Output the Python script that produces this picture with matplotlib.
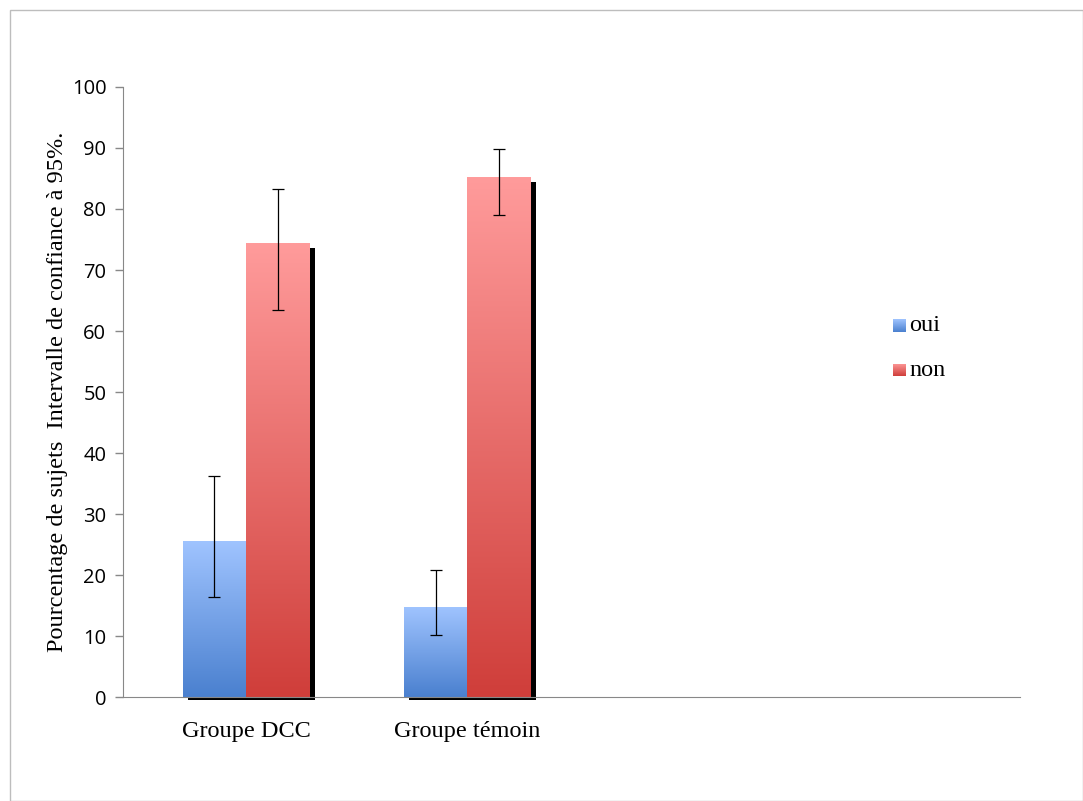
import numpy as np
import matplotlib.pyplot as plt
from matplotlib.colors import LinearSegmentedColormap
from matplotlib.patches import Rectangle

# Data
groups = ['Groupe DCC', 'Groupe témoin']
series = ['oui', 'non']
oui = [25.6, 14.8]
non = [74.4, 85.2]
oui_low = [16.4, 10.2]
oui_high = [36.2, 20.8]
non_low = [63.4, 79.0]
non_high = [83.2, 89.8]

blue_cmap = LinearSegmentedColormap.from_list('b', ['#4a80cf', '#a0c4ff'])
red_cmap = LinearSegmentedColormap.from_list('r', ['#cf3e3a', '#ff9b9b'])

fig = plt.figure(figsize=(10.83, 8.01), dpi=100)
fig.patches.append(Rectangle((0.009, 0.0), 0.991, 0.988, transform=fig.transFigure,
                             fill=False, edgecolor='#bdbdbd', linewidth=1))
ax = fig.add_axes([0.1136, 0.1298, 0.8282, 0.7616])

x = np.arange(len(groups))
w = 0.287
grad = np.linspace(0, 1, 256).reshape(-1, 1)

def gradient_bar(x0, height, cmap):
    # shadow
    ax.add_patch(Rectangle((x0 + 0.023, -0.5), w, height - 0.3, facecolor='black',
                           edgecolor='none', zorder=1, clip_on=False))
    rect = Rectangle((x0, 0), w, height, facecolor='none', edgecolor='none', zorder=2)
    ax.add_patch(rect)
    im = ax.imshow(grad, cmap=cmap, extent=(x0, x0 + w, 0, height), origin='lower',
                   aspect='auto', zorder=2)
    im.set_clip_path(rect)

for i in range(len(groups)):
    gradient_bar(x[i] - w, oui[i], blue_cmap)
    gradient_bar(x[i], non[i], red_cmap)

ax.errorbar(x - w / 2, oui, yerr=[np.subtract(oui, oui_low), np.subtract(oui_high, oui)],
            fmt='none', ecolor='black', elinewidth=0.9, capsize=4.5, capthick=0.9, zorder=5)
ax.errorbar(x + w / 2, non, yerr=[np.subtract(non, non_low), np.subtract(non_high, non)],
            fmt='none', ecolor='black', elinewidth=0.9, capsize=4.5, capthick=0.9, zorder=5)

ax.set_xlim(-0.557, 3.50)
ax.set_ylim(0, 100)
ax.set_yticks(range(0, 101, 10))
ax.set_yticklabels([str(v) for v in range(0, 101, 10)], fontsize=14.5, family='Open Sans')
ax.set_xticks(x)
ax.set_xticklabels(groups, fontsize=17.5, family='Liberation Serif')
ax.tick_params(axis='x', length=0, pad=17)
ax.tick_params(axis='y', length=6, color='#888888', width=1, pad=6)
for s in ['top', 'right']:
    ax.spines[s].set_visible(False)
for s in ['left', 'bottom']:
    ax.spines[s].set_color('#888888')
ax.set_ylabel('Pourcentage de sujets  Intervalle de confiance à 95%.', fontsize=17.5,
              family='Liberation Serif', labelpad=3)

# legend with gradient squares
for j, (lab, cmap) in enumerate(zip(series, [blue_cmap, red_cmap])):
    yy = 0.586 - j * 0.056
    lax = fig.add_axes([0.8245, yy, 0.0115, 0.016])
    lax.imshow(grad, cmap=cmap, origin='lower', aspect='auto')
    lax.axis('off')
    fig.text(0.8395, yy + 0.008, lab, fontsize=17.5, family='Liberation Serif', va='center')

fig.savefig('out.png', dpi=100)
